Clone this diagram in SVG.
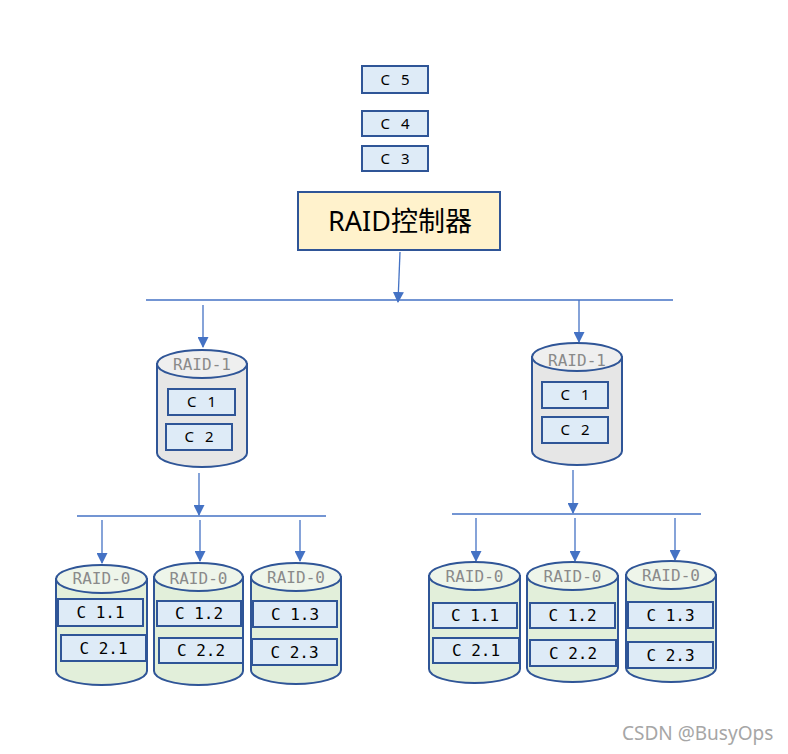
<svg xmlns="http://www.w3.org/2000/svg" width="788" height="754" viewBox="0 0 788 754">
<defs>
<marker id="arr" markerUnits="userSpaceOnUse" markerWidth="11" markerHeight="11" refX="10" refY="5.5" orient="auto">
<path d="M0,0 L11,5.5 L0,11 Z" fill="#4472c4"/>
</marker>
</defs>
<style>
.box{fill:#deebf7;stroke:#2f5597;stroke-width:2}
.ctl{fill:#fff2cc;stroke:#2f5597;stroke-width:2}
.cyl{stroke:#2f5597;stroke-width:2}
.g1{fill:#e6e6e6}
.g1t{fill:#efefef}
.g0{fill:#e2efda}
.g0t{fill:#eef5ea}
.con line{stroke:#4472c4;stroke-width:1.3;fill:none}
.sans{font-family:"Noto Sans","Liberation Sans",sans-serif;font-size:15px;fill:#000;text-anchor:middle;word-spacing:7px}
.mono{font-family:"DejaVu Sans Mono","Liberation Mono",monospace;font-size:16px;fill:#000;text-anchor:middle}
.lbl{font-family:"DejaVu Sans Mono","Liberation Mono",monospace;font-size:16px;fill:#8a8a8a;text-anchor:middle}
.big{font-family:"Noto Sans","Noto Sans CJK SC",sans-serif;font-size:27px;fill:#000;text-anchor:middle}
.wm{font-family:"Noto Sans","Liberation Sans",sans-serif;font-size:19px;fill:#a6a6a6}
</style>

<g id="c5"><rect class="box" x="362" y="66" width="66" height="27"/><text class="sans" x="395" y="85">C 5</text></g>
<g id="c4"><rect class="box" x="362" y="111" width="66" height="25"/><text class="sans" x="395" y="129">C 4</text></g>
<g id="c3"><rect class="box" x="362" y="146" width="66" height="25"/><text class="sans" x="395" y="164">C 3</text></g>
<g id="controller"><rect class="ctl" x="298" y="192" width="202" height="58"/><text class="big" x="400" y="231">RAID控制器</text></g>

<g class="con" id="connectors">
<line x1="400" y1="252" x2="398" y2="302" marker-end="url(#arr)"/>
<line x1="146" y1="300" x2="673" y2="300"/>
<line x1="203" y1="305" x2="203" y2="347" marker-end="url(#arr)"/>
<line x1="579" y1="300" x2="579" y2="342" marker-end="url(#arr)"/>
<line x1="199" y1="473" x2="199" y2="515" marker-end="url(#arr)"/>
<line x1="77" y1="516" x2="326" y2="516"/>
<line x1="102" y1="520" x2="102" y2="563" marker-end="url(#arr)"/>
<line x1="200" y1="520" x2="200" y2="561" marker-end="url(#arr)"/>
<line x1="300" y1="520" x2="300" y2="561" marker-end="url(#arr)"/>
<line x1="573" y1="470" x2="573" y2="513" marker-end="url(#arr)"/>
<line x1="452" y1="514" x2="701" y2="514"/>
<line x1="476" y1="518" x2="476" y2="561" marker-end="url(#arr)"/>
<line x1="575" y1="518" x2="575" y2="561" marker-end="url(#arr)"/>
<line x1="675" y1="518" x2="675" y2="560" marker-end="url(#arr)"/>
</g>

<g id="raid1-left">
<path class="cyl g1" d="M157,364 L157,453 A45,14 0 0 0 247,453 L247,364 Z"/>
<ellipse class="cyl g1t" cx="202" cy="364" rx="45" ry="14"/>
<text class="lbl" x="202" y="370">RAID-1</text>
<rect class="box" x="168" y="389" width="67" height="26"/><text class="sans" x="201.5" y="407">C 1</text>
<rect class="box" x="166" y="424" width="66" height="26"/><text class="sans" x="199" y="442">C 2</text>
</g>

<g id="raid1-right">
<path class="cyl g1" d="M532,357 L532,451 A45,14 0 0 0 622,451 L622,357 Z"/>
<ellipse class="cyl g1t" cx="577" cy="357" rx="45" ry="14"/>
<text class="lbl" x="577" y="366">RAID-1</text>
<rect class="box" x="542" y="382" width="66" height="26"/><text class="sans" x="575" y="400">C 1</text>
<rect class="box" x="542" y="417" width="66" height="26"/><text class="sans" x="575" y="435">C 2</text>
</g>

<g id="raid0-l1">
<path class="cyl g0" d="M56,579 L56,671 A45.5,14 0 0 0 147,671 L147,579 Z"/>
<ellipse class="cyl g0t" cx="101.5" cy="579" rx="45.5" ry="14"/>
<text class="lbl" x="101.5" y="584">RAID-0</text>
<rect class="box" x="58" y="599" width="85" height="27"/><text class="mono" x="100.5" y="618">C 1.1</text>
<rect class="box" x="61" y="635" width="85" height="26"/><text class="mono" x="103.5" y="654">C 2.1</text>
</g>

<g id="raid0-l2">
<path class="cyl g0" d="M154,577 L154,671 A44.5,14 0 0 0 243,671 L243,577 Z"/>
<ellipse class="cyl g0t" cx="198.5" cy="577" rx="44.5" ry="14"/>
<text class="lbl" x="198.5" y="584">RAID-0</text>
<rect class="box" x="157" y="601" width="84" height="25"/><text class="mono" x="199" y="619">C 1.2</text>
<rect class="box" x="159" y="638" width="84" height="25"/><text class="mono" x="201" y="656">C 2.2</text>
</g>

<g id="raid0-l3">
<path class="cyl g0" d="M251,577 L251,670 A45,14 0 0 0 341,670 L341,577 Z"/>
<ellipse class="cyl g0t" cx="296" cy="577" rx="45" ry="14"/>
<text class="lbl" x="296" y="583">RAID-0</text>
<rect class="box" x="253" y="601" width="84" height="26"/><text class="mono" x="295" y="620">C 1.3</text>
<rect class="box" x="252" y="639" width="85" height="26"/><text class="mono" x="294.5" y="658">C 2.3</text>
</g>

<g id="raid0-r1">
<path class="cyl g0" d="M429,576 L429,669 A45.5,14 0 0 0 520,669 L520,576 Z"/>
<ellipse class="cyl g0t" cx="474.5" cy="576" rx="45.5" ry="14"/>
<text class="lbl" x="474.5" y="582">RAID-0</text>
<rect class="box" x="433" y="603" width="84" height="25"/><text class="mono" x="475" y="621">C 1.1</text>
<rect class="box" x="433" y="638" width="86" height="25"/><text class="mono" x="476" y="656">C 2.1</text>
</g>

<g id="raid0-r2">
<path class="cyl g0" d="M527,576 L527,668 A45.5,14 0 0 0 618,668 L618,576 Z"/>
<ellipse class="cyl g0t" cx="572.5" cy="576" rx="45.5" ry="14"/>
<text class="lbl" x="572.5" y="582">RAID-0</text>
<rect class="box" x="530" y="603" width="85" height="25"/><text class="mono" x="572.5" y="621">C 1.2</text>
<rect class="box" x="530" y="640" width="86" height="26"/><text class="mono" x="573" y="659">C 2.2</text>
</g>

<g id="raid0-r3">
<path class="cyl g0" d="M626,575 L626,668 A45,14 0 0 0 716,668 L716,575 Z"/>
<ellipse class="cyl g0t" cx="671" cy="575" rx="45" ry="14"/>
<text class="lbl" x="671" y="581">RAID-0</text>
<rect class="box" x="628" y="602" width="85" height="26"/><text class="mono" x="670.5" y="621">C 1.3</text>
<rect class="box" x="628" y="642" width="85" height="26"/><text class="mono" x="670.5" y="661">C 2.3</text>
</g>

<text class="wm" x="622" y="740">CSDN @BusyOps</text>
</svg>
